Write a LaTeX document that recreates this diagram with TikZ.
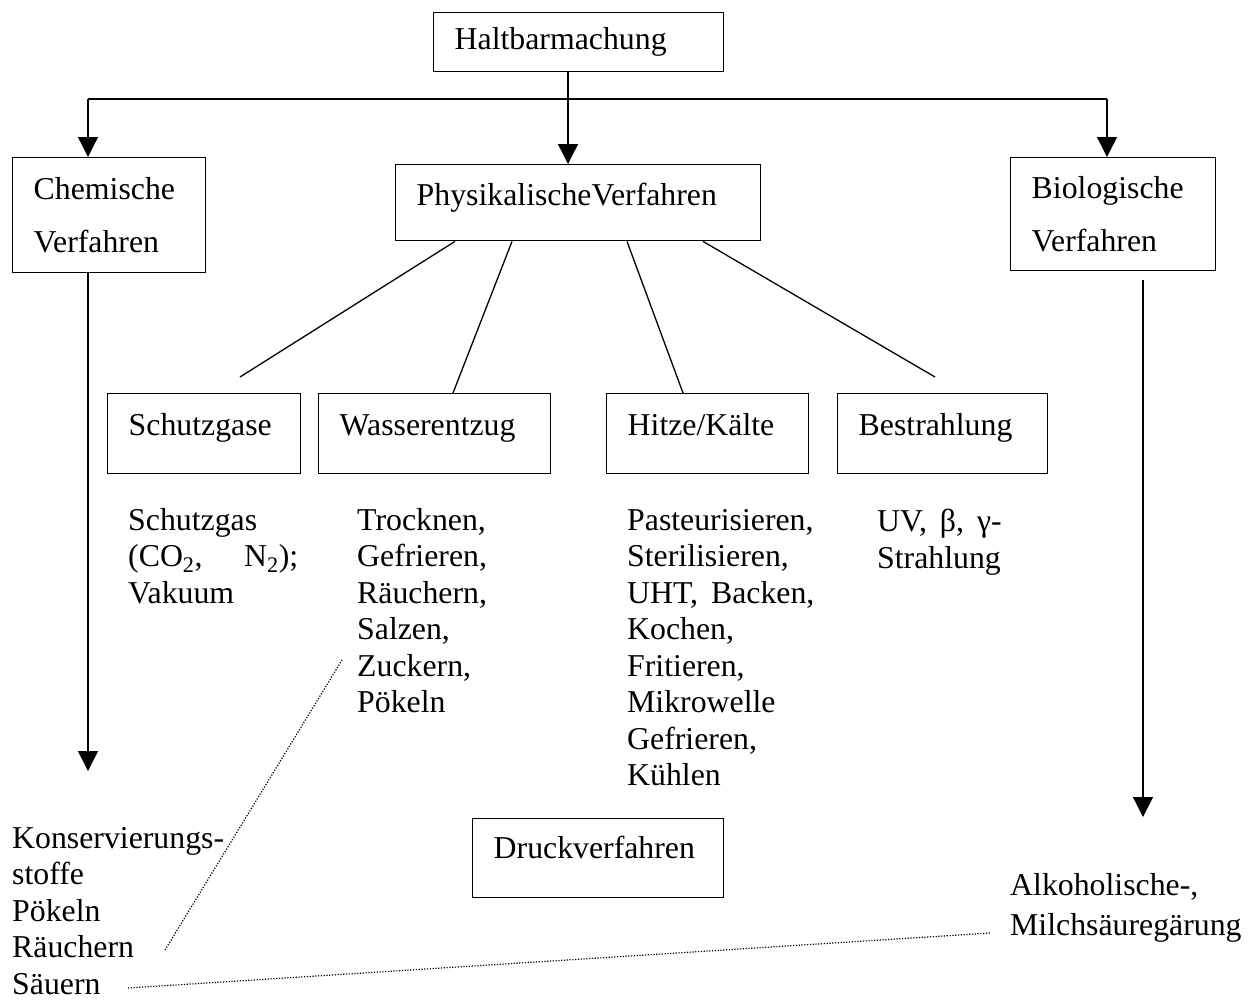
\documentclass[tikz,border=0pt]{standalone}
\usepackage{fontspec}
\setmainfont{Liberation Serif}
\usetikzlibrary{arrows.meta}

\begin{document}
\begin{tikzpicture}[x=1pt, y=-1pt,
    every node/.style={font=\fontsize{31.8}{36.5}\selectfont},
    box/.style={draw, line width=1.4pt, anchor=north west, align=left, inner ysep=0pt, inner xsep=21pt},
    onebox/.style={box, text height=22pt, text depth=#1},
    list/.style={anchor=north west, align=left, inner sep=0pt, execute at begin node=\strut},
    arr/.style={-{Triangle[length=20pt, width=20pt]}, line width=1.3pt},
    link/.style={line width=1.3pt},
    hint/.style={line width=1.2pt, dash pattern=on 1.2pt off 1.6pt}]
  \useasboundingbox (0,0) rectangle (1257,999);

  % Boxes
  \node[onebox=7pt, text width=248pt, minimum height=59pt] (halt) at (433,12) {Haltbarmachung};
  \node[box, text width=151pt, minimum height=115pt] (chem) at (12,157) {Chemische\\[16.5pt]Verfahren};
  \node[onebox=16pt, text width=323pt, minimum height=76pt] (phys) at (395,164) {PhysikalischeVerfahren};
  \node[box, text width=163pt, minimum height=113pt] (bio) at (1010,157) {Biologische\\[16.5pt]Verfahren};
  \node[onebox=18pt, text width=151pt, minimum height=80pt] (schutz) at (107,393) {Schutzgase};
  \node[onebox=18pt, text width=190pt, minimum height=80pt] (wasser) at (318,393) {Wasserentzug};
  \node[onebox=18pt, text width=160pt, minimum height=80pt] (hitze) at (606,393) {Hitze/Kälte};
  \node[onebox=18pt, text width=168pt, minimum height=80pt] (bestr) at (837,393) {Bestrahlung};
  \node[onebox=22pt, text width=209pt, minimum height=79pt] (druck) at (472,818) {Druckverfahren};

  % Lists
  \node[list, text width=170pt] (schutzlist) at (128,504.5) {Schutzgas\\(CO\textsubscript{2},\hfill N\textsubscript{2});\\Vakuum};
  \node[list, text width=190pt] (wasserlist) at (357,504.5) {Trocknen,\\Gefrieren,\\Räuchern,\\Salzen,\\Zuckern,\\Pökeln};
  \node[list, text width=200pt] (hitzelist) at (627,504.5) {Pasteurisieren,\\Sterilisieren,\\UHT,\hspace{13pt}Backen,\\Kochen,\\Fritieren,\\Mikrowelle\\Gefrieren,\\Kühlen};
  \node[list, text width=170pt] (bestrlist) at (877,506) {UV,\hspace{13pt}β,\hspace{13pt}γ-\\Strahlung};
  \node[list, text width=230pt] (konslist) at (12,822.5) {Konservierungs-\\stoffe\\Pökeln\\Räuchern\\Säuern};
  \node[list, text width=245pt] (alklist) at (1010,869.5) {Alkoholische-,\\[3.5pt]Milchsäuregärung};

  % Arrows
  \coordinate (tbar) at (568,99);
  \coordinate (tleft) at (88,99);
  \coordinate (tright) at (1107,99);
  \draw[link] (tleft) -- (tright);
  \draw[arr] (tbar |- halt.south) -- (tbar |- phys.north);
  \draw[arr] (tleft) -- (tleft |- chem.north);
  \draw[arr] (tright) -- (tright |- bio.north);
  \coordinate (chemtip) at (88,771);
  \draw[arr] (tleft |- chem.south) -- (chemtip);
  \coordinate (biotop) at (1143,280);
  \coordinate (biotip) at (1143,817);
  \draw[arr] (biotop) -- (biotip);

  % Branches
  \coordinate (schutzend) at (240,377);
  \coordinate (bestrend) at (935,377);
  \draw[link] ([xshift=60pt]phys.south west) -- (schutzend);
  \draw[link] ([xshift=117pt]phys.south west) -- ([xshift=135pt]wasser.north west);
  \draw[link] ([xshift=232pt]phys.south west) -- ([xshift=77pt]hitze.north west);
  \draw[link] ([xshift=308pt]phys.south west) -- (bestrend);

  % Dotted hints
  \coordinate (dotA1) at (165,950);
  \coordinate (dotA2) at (342,660);
  \coordinate (dotB1) at (128,988);
  \coordinate (dotB2) at (990,933);
  \draw[hint] (dotA1) -- (dotA2);
  \draw[hint] (dotB1) -- (dotB2);
\end{tikzpicture}
\end{document}
